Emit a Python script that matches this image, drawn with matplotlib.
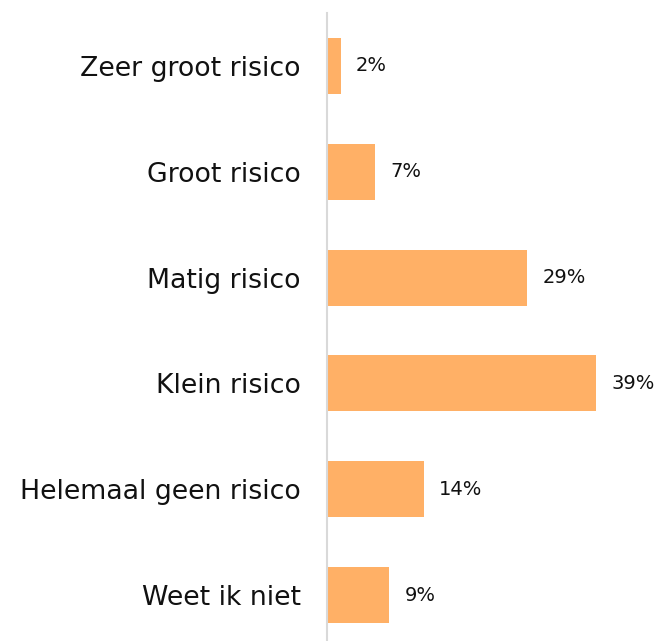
import matplotlib
matplotlib.use('Agg')
import matplotlib.pyplot as plt

# Survey answers, top to bottom
categories = ['Zeer groot risico', 'Groot risico', 'Matig risico',
              'Klein risico', 'Helemaal geen risico', 'Weet ik niet']
percentages = [2, 7, 29, 39, 14, 9]

plt.rcParams['font.family'] = ['DejaVu Sans']

W, H = 662, 641
fig = plt.figure(figsize=(W / 100, H / 100), dpi=100)
ax = fig.add_axes([327 / W, 0, (W - 327) / W, (641 - 13) / H])

pos = list(range(len(categories)))
ax.barh(pos, percentages, height=0.53, color='#FFB066')

for y, v in zip(pos, percentages):
    ax.annotate(f'{v}%', xy=(v, y), xytext=(11, 0), textcoords='offset points',
                va='center', ha='left', fontsize=14, color='#111111')

ax.set_xlim(0, (W - 327) / 6.9)
ax.set_ylim(5.434, -0.5)
ax.set_yticks(pos)
ax.set_yticklabels(categories, fontsize=19.3, color='#111111')
ax.tick_params(axis='y', length=0, pad=19)
ax.set_xticks([])
for side in ['top', 'right', 'bottom']:
    ax.spines[side].set_visible(False)
ax.spines['left'].set_color('#D9D9D9')
ax.spines['left'].set_linewidth(1.5)

fig.savefig('out.png', dpi=100)
